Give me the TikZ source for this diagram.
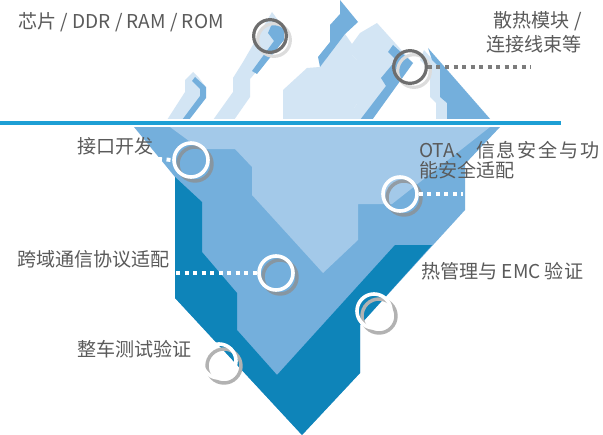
\documentclass[tikz,border=0pt]{standalone}
\usepackage{fontspec}
\setmainfont{Noto Sans CJK SC}
\definecolor{deep}{HTML}{0E84B9}
\definecolor{mid}{HTML}{74AFDC}
\definecolor{pale}{HTML}{A3C9E9}
\definecolor{ice}{HTML}{D3E5F4}
\definecolor{sea}{HTML}{1D9FD5}
\definecolor{ink}{HTML}{5A5A5A}
\definecolor{ringgray}{HTML}{6E6E6E}
\definecolor{shadegray}{HTML}{DCDCDC}
\definecolor{dropgray}{HTML}{8E8E8E}
\begin{document}
\begin{tikzpicture}[x=0.75pt,y=-0.75pt,
  lbl/.style={inner sep=0pt,text=ink,font=\fontsize{14.3pt}{17pt}\selectfont},
  ringW/.style={circle,draw=white,line width=2.7pt,minimum size=25.5pt,inner sep=0pt},
  ringG/.style={circle,draw=ringgray,line width=2.4pt,minimum size=24.5pt,inner sep=0pt},
  dropW/.style={circle,draw=dropgray,draw opacity=0.75,line width=2.6pt,minimum size=25.5pt,inner sep=0pt},
  dropG/.style={circle,draw=shadegray,line width=2.4pt,minimum size=24.5pt,inner sep=0pt},
  whitedots/.style={white,line width=3pt,dash pattern=on 3pt off 3.4pt},
  graydots/.style={ringgray!90,line width=3pt,dash pattern=on 3pt off 3.4pt}]
\useasboundingbox (0,0) rectangle (603,435);
\fill[white] (0,0) rectangle (603,435);

% ---- part below the water line ----
\fill[mid] (134,127) -- (500,127) -- (465,164) -- (465,210) -- (360,325) -- (360,373)
  -- (302,435) -- (175,298) -- (175,177) -- cycle;
\fill[deep] (175,177) -- (202,202) -- (202,252) -- (237,293) -- (237,330) -- (277,375)
  -- (395,245) -- (432,245) -- (360,325) -- (360,373) -- (302,435) -- (175,298) -- cycle;
\fill[pale] (170,127) -- (490,127) -- (392,204) -- (358,204) -- (358,240) -- (323,273)
  -- (252,195) -- (252,167) -- (235,149) -- (200,149) -- cycle;

% ---- peaks above the water line ----
% small left peak
\fill[ice] (167,120) -- (185,92) -- (185,80) -- (193,72) -- (199,78) -- (205,86)
  -- (205,97) -- (187,120) -- cycle;
\fill[mid] (195,77) -- (206,87) -- (206,98) -- (189,120) -- (182,120) -- (200,96)
  -- (200,89) -- (192,81) -- cycle;
% slanted band
\fill[ice] (213,120) -- (233,92) -- (233,78) -- (243,62) -- (272,12) -- (283,27)
  -- (256,72) -- (250,79) -- (250,97) -- (234,120) -- cycle;
\fill[mid] (274,19) -- (284,29) -- (284,40) -- (257,74) -- (252,71) -- (274,41)
  -- (268,33) -- cycle;
% tall middle peak
\fill[ice] (283,120) -- (283,90) -- (307,68) -- (320,67) -- (345,34) -- (352,44)
  -- (352,55) -- (357,60) -- (357,104) -- (354,108) -- (354,120) -- cycle;
\fill[mid] (340,0) -- (358,22) -- (345,34) -- (320,67) -- (318,57) -- (330,42)
  -- (330,25) -- (340,14) -- cycle;
% right peak
\fill[ice] (354,120) -- (354,108) -- (357,104) -- (357,60) -- (352,55) -- (352,44)
  -- (360,33) -- (377,23) -- (395,43) -- (413,63) -- (372,120) -- cycle;
\fill[ice] (424,50) -- (440,68) -- (440,97) -- (447,103) -- (447,120) -- (436,120)
  -- (436,103) -- (430,97) -- (430,70) -- (420,60) -- cycle;
\fill[mid] (393,45) -- (413,63) -- (372,120) -- (360,120) -- (386,86) -- (381,78)
  -- (396,60) -- (388,52) -- cycle;
\fill[mid] (428,48) -- (491,120) -- (447,120) -- (447,103) -- (440,97) -- (440,68)
  -- (432,60) -- cycle;

% ---- water line ----
\fill[white] (0,118.6) rectangle (561,127);
\fill[sea] (0,121.2) rectangle (561,125.4);

% ---- rings ----
\node[dropG] at (274,40) {};
\node[ringG] (cChip) at (270,36) {};
\node[dropG] at (414,71) {};
\node[ringG] (cHeat) at (410,67) {};
\node[dropW] at (195,164) {};
\node[ringW] (cPort) at (191,160) {};
\node[dropW] at (404,198) {};
\node[ringW] (cOta) at (400,194) {};
\node[dropW] at (280,277) {};
\node[ringW] (cBus) at (276,273) {};
\node[dropW,draw=gray!60,draw opacity=1] at (379,316) {};
\node[ringW] (cThermal) at (374,311) {};
\node[dropW,draw=gray!60,draw opacity=1] at (224,366) {};
\node[ringW] (cVehicle) at (219,361) {};

% ---- labels ----
\node[lbl,anchor=base west] (tChip) at (18,29) {芯片 / DDR / RAM / ROM};
\node[lbl,anchor=base east] (tHeatA) at (582,28) {散热模块 /};
\node[lbl,anchor=base east] (tHeatB) at (582,52) {连接线束等};
\node[lbl,anchor=base west] (tPort) at (77,153) {接口开发};
\node[lbl,anchor=base west] (tOtaA) at (419,157)
  {\makebox[135.5pt][s]{OTA、\hfil 信\hfil 息\hfil 安\hfil 全\hfil 与\hfil 功}};
\node[lbl,anchor=base west] (tOtaB) at (419,177) {能安全适配};
\node[lbl,anchor=base west] (tBus) at (17,266) {跨域通信协议适配};
\node[lbl,anchor=base west] (tThermal) at (421,278) {热管理与 EMC 验证};
\node[lbl,anchor=base west] (tVehicle) at (77,356) {整车测试验证};

% ---- leader lines ----
\coordinate (eHeat) at (531,67);
\coordinate (ePort) at (158,159);
\coordinate (eOta) at (463,194);
\coordinate (eBus) at (176,273);
\draw[graydots] (cHeat.east) -- (eHeat);
\draw[whitedots] (ePort) -- (cPort.west);
\draw[whitedots] (cOta.east) -- (eOta);
\draw[whitedots] (eBus) -- (cBus.west);
\end{tikzpicture}
\end{document}
